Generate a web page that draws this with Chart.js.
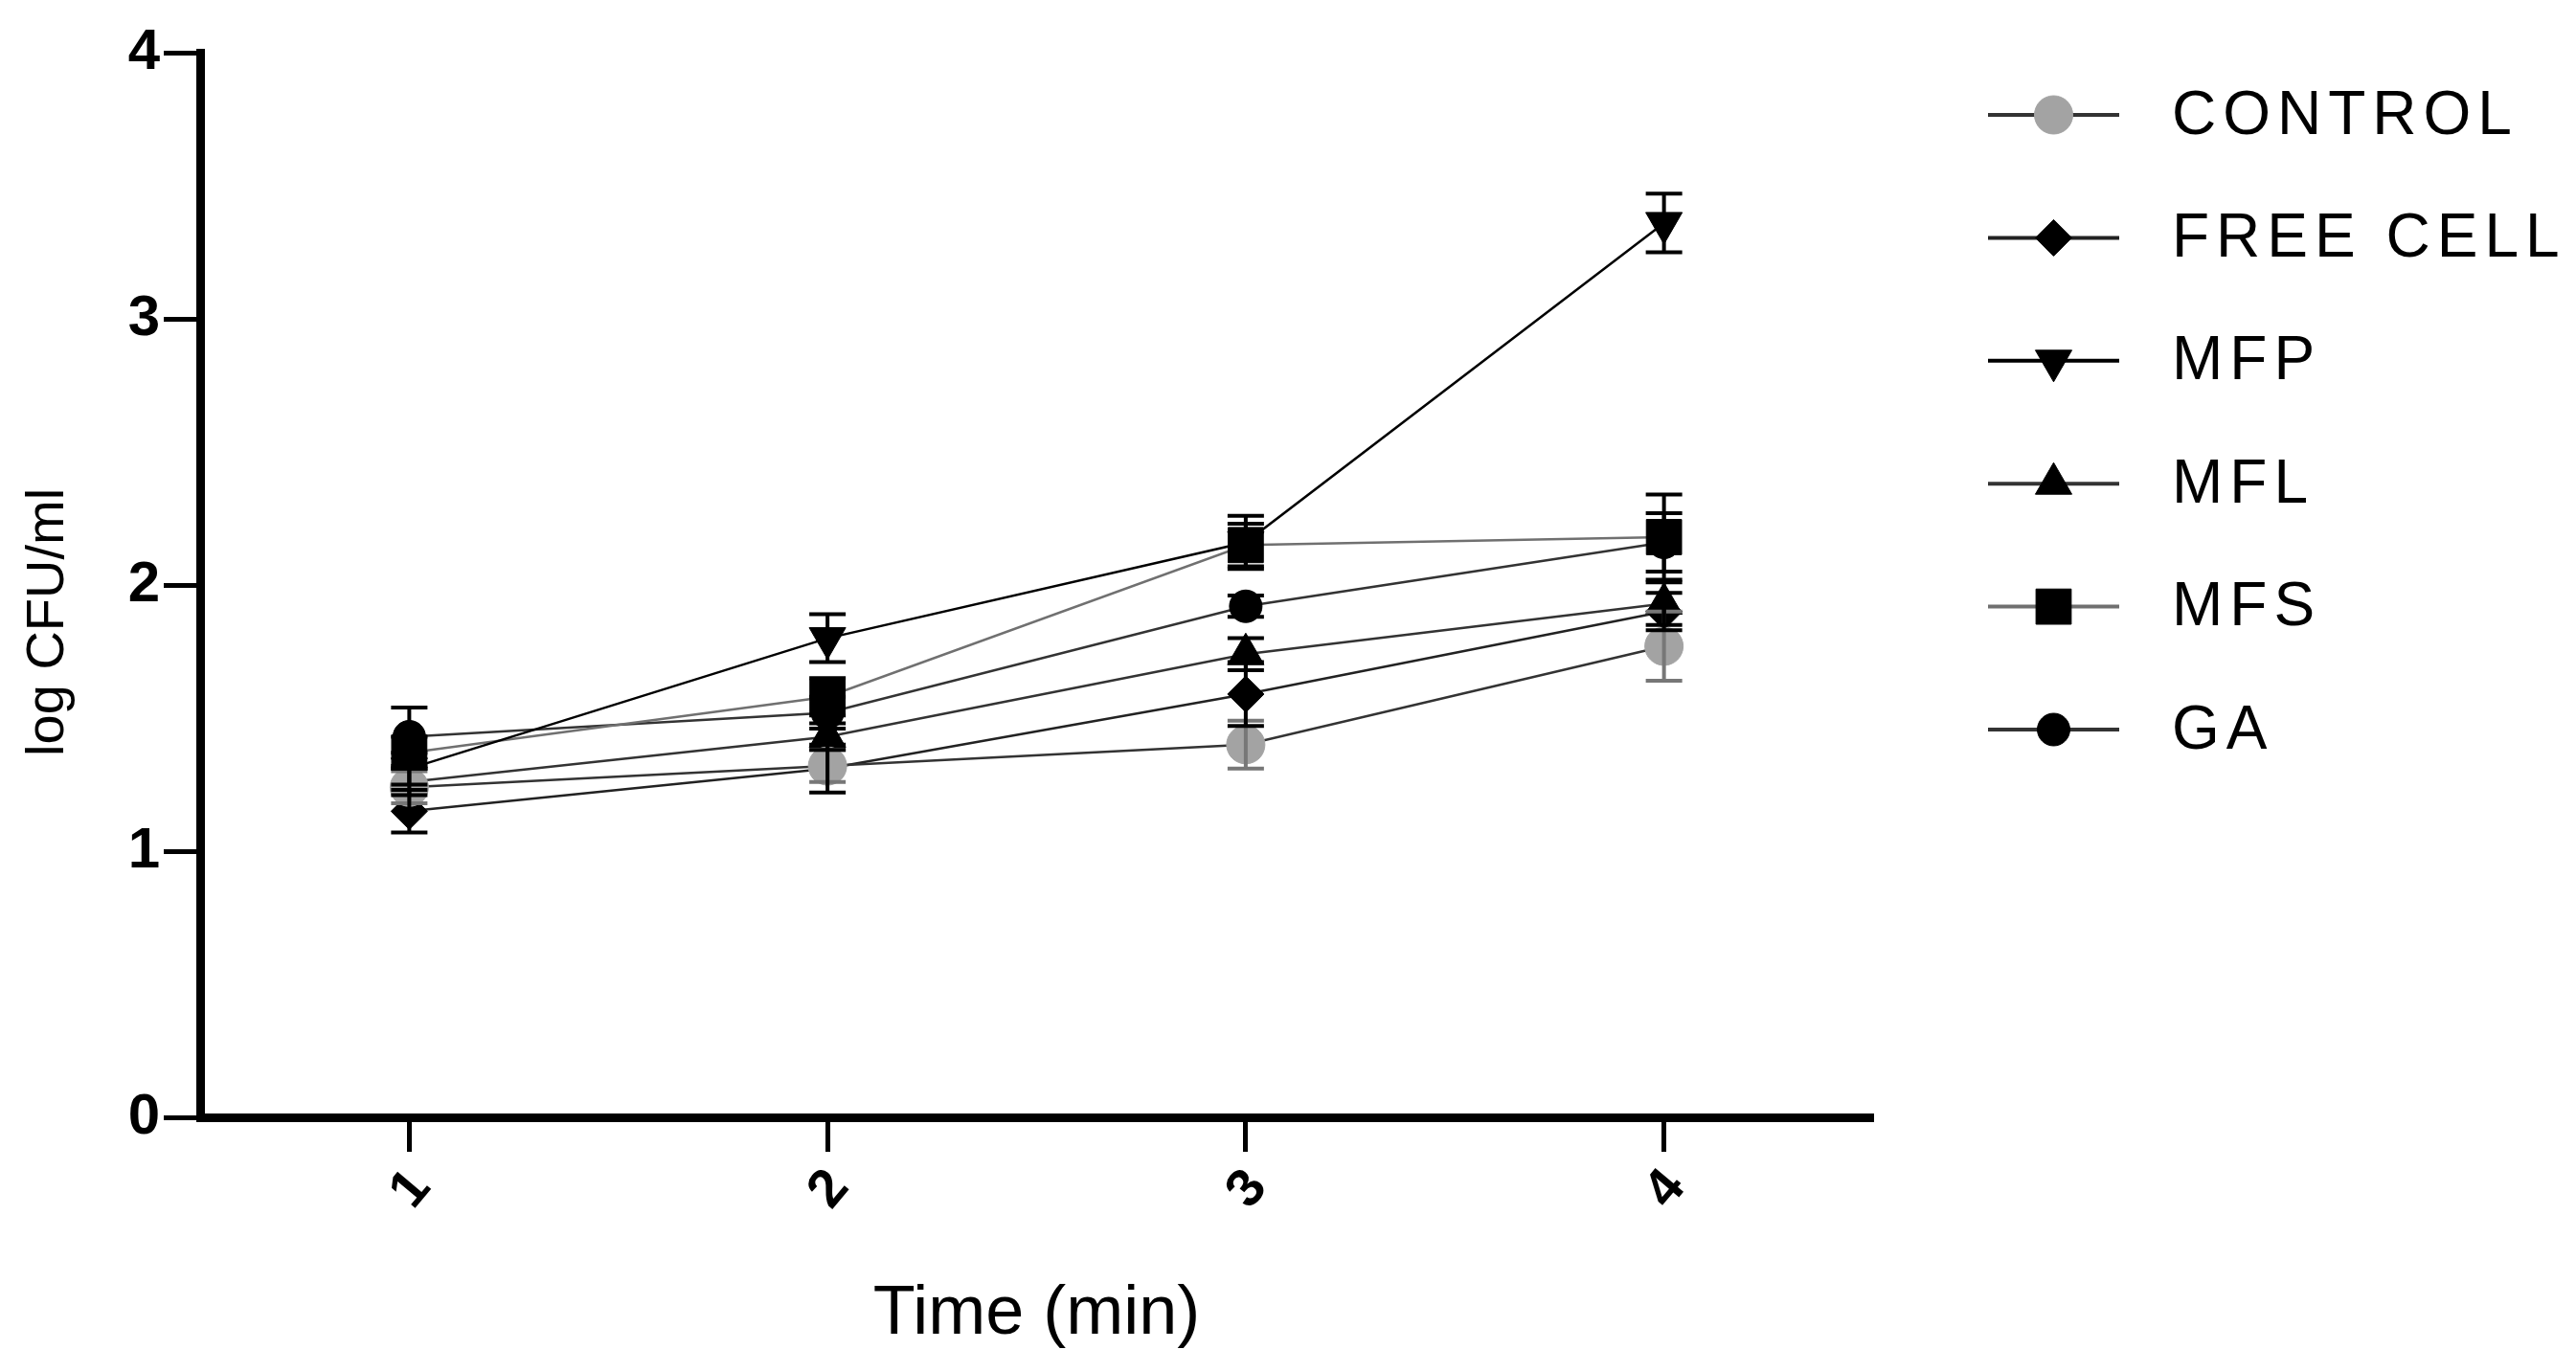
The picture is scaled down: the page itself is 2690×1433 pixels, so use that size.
<!DOCTYPE html>
<html>
<head>
<meta charset="utf-8">
<script src="https://cdn.jsdelivr.net/npm/chart.js@4.4.1/dist/chart.umd.min.js"></script>
<style>
    html, body { margin: 0; padding: 0; background: #fff; }
    #wrap { width: 2690px; height: 1433px; position: relative; }
</style>
</head>
<body>
<div id="wrap"><canvas id="growth-chart"></canvas></div>
<script>
// Time points (x) and y ticks
const timePoints = [1, 2, 3, 4];
const yTicks = [0, 1, 2, 3, 4];

// Series labels
const seriesNames = ['CONTROL', 'FREE CELL', 'MFP', 'MFL', 'MFS', 'GA'];

// Means (log CFU/ml)
const control  = [1.24, 1.32, 1.40, 1.77];
const freeCell = [1.15, 1.31, 1.59, 1.90];
const mfp      = [1.31, 1.80, 2.16, 3.36];
const mfl      = [1.26, 1.43, 1.74, 1.93];
const mfs      = [1.37, 1.58, 2.15, 2.18];
const ga       = [1.43, 1.52, 1.92, 2.16];

// Error (+/-)
const controlErr  = [0.06, 0.06, 0.09, 0.13];
const freeCellErr = [0.08, 0.09, 0.12, 0.07];
const mfpErr      = [0.06, 0.09, 0.10, 0.11];
const mflErr      = [0.05, 0.05, 0.06, 0.08];
const mfsErr      = [0.06, 0.07, 0.08, 0.16];
const gaErr       = [0.11, 0.06, 0.04, 0.11];

Chart.defaults.font.family = 'Arial, "Liberation Sans", sans-serif';
Chart.defaults.color = '#000';

function toPoints(values) {
    return values.map((v, i) => ({ x: timePoints[i], y: v }));
}

function makeSeries(label, values, errors, opts) {
    return {
        label: label,
        data: toPoints(values),
        errors: errors,
        errorColor: opts.errorColor || '#000',
        borderColor: opts.line,
        borderWidth: 2.5,
        pointStyle: opts.style,
        pointRotation: opts.rotation || 0,
        pointRadius: opts.radius,
        pointHoverRadius: opts.radius,
        pointBackgroundColor: opts.fill,
        pointBorderColor: opts.fill,
        pointBorderWidth: 1,
        tension: 0,
        fill: false,
    };
}

const datasets = [
    makeSeries(seriesNames[0], control,  controlErr,  { line: '#333', fill: '#a3a3a3', style: 'circle', radius: 20, errorColor: '#777' }),
    makeSeries(seriesNames[1], freeCell, freeCellErr, { line: '#222', fill: '#000', style: 'rectRot', radius: 19 }),
    makeSeries(seriesNames[2], mfp,      mfpErr,      { line: '#000', fill: '#000', style: 'triangle', rotation: 180, radius: 22 }),
    makeSeries(seriesNames[3], mfl,      mflErr,      { line: '#333', fill: '#000', style: 'triangle', radius: 22 }),
    makeSeries(seriesNames[4], mfs,      mfsErr,      { line: '#707070', fill: '#000', style: 'rect', radius: 26 }),
    makeSeries(seriesNames[5], ga,       gaErr,       { line: '#333', fill: '#000', style: 'circle', radius: 17 }),
];

// Vertical error bars with caps, drawn through the y scale
const errorBars = {
    id: 'errorBars',
    afterDatasetsDraw(chart, args, opts) {
        const ctx = chart.ctx;
        const yScale = chart.scales.y;
        chart.data.datasets.forEach((ds, di) => {
            const meta = chart.getDatasetMeta(di);
            if (!ds.errors) return;
            ctx.save();
            ctx.strokeStyle = ds.errorColor;
            ctx.lineWidth = opts.width;
            meta.data.forEach((pt, i) => {
                const v = ds.data[i].y;
                const e = ds.errors[i];
                const yTop = yScale.getPixelForValue(v + e);
                const yBot = yScale.getPixelForValue(v - e);
                ctx.beginPath();
                ctx.moveTo(pt.x, yTop);
                ctx.lineTo(pt.x, yBot);
                ctx.moveTo(pt.x - opts.cap, yTop);
                ctx.lineTo(pt.x + opts.cap, yTop);
                ctx.moveTo(pt.x - opts.cap, yBot);
                ctx.lineTo(pt.x + opts.cap, yBot);
                ctx.stroke();
            });
            ctx.restore();
        });
    }
};

// Legend on the right: line with marker, then the label
const sideLegend = {
    id: 'sideLegend',
    afterDraw(chart, args, opts) {
        const ctx = chart.ctx;
        chart.data.datasets.forEach((ds, i) => {
            const y = opts.top + i * opts.rowGap;
            ctx.save();
            ctx.strokeStyle = ds.borderColor;
            ctx.lineWidth = opts.lineWidth;
            ctx.beginPath();
            ctx.moveTo(opts.lineX0, y);
            ctx.lineTo(opts.lineX1, y);
            ctx.stroke();
            ctx.fillStyle = ds.pointBackgroundColor;
            ctx.strokeStyle = ds.pointBorderColor;
            ctx.lineWidth = 1;
            Chart.helpers.drawPoint(ctx, {
                pointStyle: ds.pointStyle,
                rotation: ds.pointRotation,
                radius: ds.pointRadius,
                borderWidth: 1,
            }, (opts.lineX0 + opts.lineX1) / 2, y);
            ctx.fillStyle = '#000';
            ctx.font = opts.font;
            ctx.letterSpacing = opts.letterSpacing;
            ctx.textAlign = 'left';
            ctx.textBaseline = 'middle';
            ctx.fillText(ds.label, opts.textX, y + 2);
            ctx.restore();
        });
    }
};

const ctx = document.getElementById('growth-chart').getContext('2d');
new Chart(ctx, {
    type: 'line',
    data: { datasets: datasets },
    options: {
        responsive: true,
        maintainAspectRatio: false,
        animation: false,
        events: [],
        layout: { padding: { top: 55, right: 734, bottom: 0, left: 0 } },
        plugins: {
            legend: { display: false },
            tooltip: { enabled: false },
            errorBars: { width: 4, cap: 19 },
            sideLegend: {
                lineX0: 2076, lineX1: 2213, textX: 2268,
                top: 120, rowGap: 128.4, lineWidth: 4,
                font: '64px Arial, "Liberation Sans", sans-serif',
                letterSpacing: '7px',
            },
        },
        scales: {
            x: {
                type: 'linear',
                min: 0.5,
                max: 4.5,
                afterBuildTicks: s => { s.ticks = timePoints.map(v => ({ value: v })); },
                afterFit: s => { s.height = 266; },
                border: { display: true, color: '#000', width: 9 },
                grid: { drawOnChartArea: false, drawTicks: true, tickLength: 36, tickWidth: 5, tickColor: '#000' },
                ticks: {
                    minRotation: 50, maxRotation: 50,
                    padding: 6, labelOffset: 12,
                    font: { size: 56, weight: 'bold' },
                    color: '#000',
                },
                title: {
                    display: true,
                    text: 'Time (min)',
                    font: { size: 72 },
                    padding: { top: 0, bottom: 17 },
                    color: '#000',
                },
            },
            y: {
                min: 0,
                max: 4,
                afterBuildTicks: s => { s.ticks = yTicks.map(v => ({ value: v })); },
                afterFit: s => { s.width = 209; },
                border: { display: true, color: '#000', width: 9 },
                grid: { drawOnChartArea: false, drawTicks: true, tickLength: 38, tickWidth: 5, tickColor: '#000' },
                ticks: {
                    padding: 4,
                    font: { size: 60, weight: 'bold' },
                    color: '#000',
                },
                title: {
                    display: true,
                    text: 'log CFU/ml     ',
                    font: { size: 56 },
                    padding: { top: 17, bottom: 0 },
                    color: '#000',
                },
            },
        },
    },
    plugins: [errorBars, sideLegend],
});
</script>
</body>
</html>
